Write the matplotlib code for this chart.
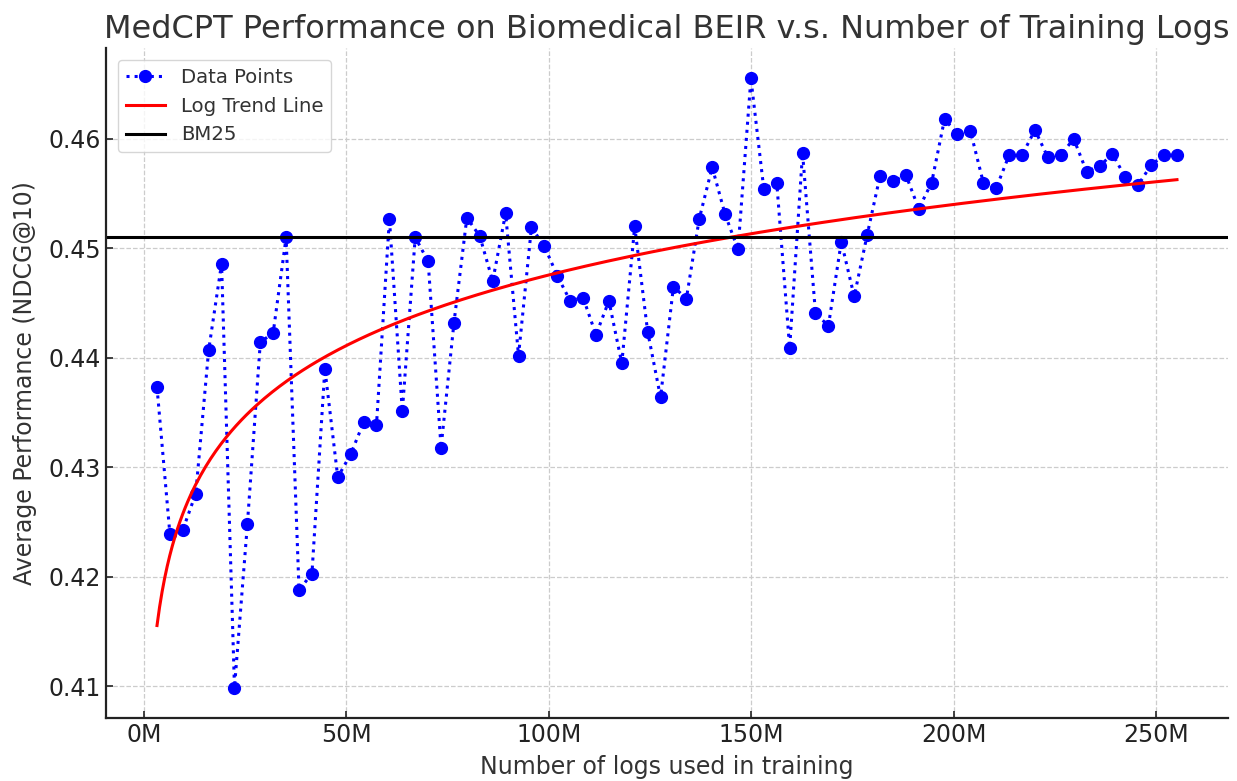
import numpy as np
import matplotlib
matplotlib.use("Agg")
import matplotlib.pyplot as plt
from matplotlib.ticker import FuncFormatter

# training logs (millions) and average NDCG@10
logs_m = [3.19 * k for k in range(1, 81)]
ndcg = [
    0.4373, 0.4239, 0.4243, 0.4276, 0.4407, 0.4486, 0.4099, 0.4248, 0.4414, 0.4423,
    0.4510, 0.4188, 0.4203, 0.4390, 0.4291, 0.4312, 0.4341, 0.4339, 0.4527, 0.4351,
    0.4510, 0.4488, 0.4318, 0.4432, 0.4528, 0.4511, 0.4470, 0.4532, 0.4402, 0.4519,
    0.4502, 0.4475, 0.4452, 0.4455, 0.4421, 0.4452, 0.4395, 0.4520, 0.4424, 0.4364,
    0.4465, 0.4454, 0.4527, 0.4574, 0.4531, 0.4499, 0.4655, 0.4554, 0.4560, 0.4409,
    0.4587, 0.4441, 0.4429, 0.4506, 0.4456, 0.4512, 0.4566, 0.4561, 0.4567, 0.4536,
    0.4560, 0.4618, 0.4604, 0.4607, 0.4560, 0.4555, 0.4585, 0.4585, 0.4608, 0.4583,
    0.4585, 0.4600, 0.4570, 0.4575, 0.4586, 0.4565, 0.4558, 0.4576, 0.4585, 0.4585,
]
bm25 = 0.4510

x = np.array(logs_m) * 1e6
y = np.array(ndcg)

# log trend fit
b, a = np.polyfit(np.log(x), y, 1)
xs = np.linspace(x.min(), x.max(), 400)
trend = a + b * np.log(xs)

plt.rcParams['text.color'] = '#333333'
plt.rcParams['axes.labelcolor'] = '#333333'
plt.rcParams['xtick.color'] = '#222222'
plt.rcParams['ytick.color'] = '#222222'

fig, ax = plt.subplots(figsize=(12.37, 7.81), dpi=100)
ax.plot(x, y, linestyle=':', marker='o', color='blue', linewidth=2.2, markersize=8.5, label='Data Points')
ax.plot(xs, trend, color='red', linewidth=2.2, label='Log Trend Line')
ax.axhline(bm25, color='black', linewidth=2.2, label='BM25')

ax.xaxis.set_major_formatter(FuncFormatter(lambda v, p: f'{v/1e6:.0f}M'))
ax.set_title('MedCPT Performance on Biomedical BEIR v.s. Number of Training Logs', fontsize=23, pad=7)
ax.set_xlabel('Number of logs used in training', fontsize=17, labelpad=6)
ax.set_ylabel('Average Performance (NDCG@10)', fontsize=17, labelpad=8)
ax.tick_params(labelsize=17, direction='in', length=5, width=1.2)
ax.grid(True, linestyle='--', color='#cccccc', linewidth=0.9)
ax.spines['top'].set_visible(False)
ax.spines['right'].set_visible(False)
for s in ['left', 'bottom']:
    ax.spines[s].set_linewidth(1.6)
    ax.spines[s].set_color('#222222')
leg = ax.legend(loc='upper left', fontsize=14.2, borderaxespad=0.6)
leg.get_frame().set_edgecolor('#cccccc')

fig.subplots_adjust(left=0.0857, right=0.9927, top=0.9385, bottom=0.0807)
fig.savefig('out.png', dpi=100)
